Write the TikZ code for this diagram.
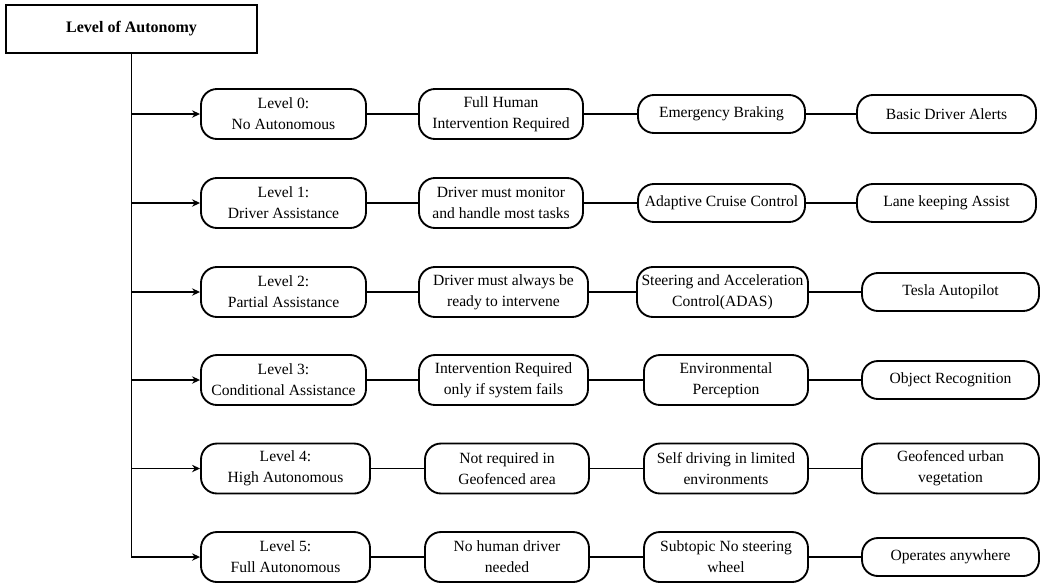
\documentclass[tikz,border=0pt]{standalone}
\usepackage{fontspec}
\setmainfont{Liberation Serif}
\usetikzlibrary{arrows.meta, positioning}

\begin{document}
\begin{tikzpicture}[
      x=0.75pt, y=-0.75pt,
      head/.style={rectangle, draw, line width=1.5pt, minimum width=188pt, minimum height=36pt, font=\fontsize{12}{14}\selectfont\bfseries},
      box/.style={rectangle, draw, line width=1.4pt, rounded corners=12pt, align=center, inner sep=1pt, minimum width=#1*0.75pt, minimum height=37.5pt, font=\fontsize{11.7}{15.75}\selectfont},
      short/.style={minimum height=28.5pt},
      link/.style={line width=1.2pt},
      arrow/.style={-{Stealth[length=6pt, width=5.5pt]}, line width=1.2pt}
    ]
    \useasboundingbox (0,0) rectangle (1041,583);

    \node[head] (aut) at (131.5,29) {Level of Autonomy};

    % level 0
    \node[box=165] (lv0) at (283.5,114) {Level 0:\\No Autonomous};
    \node[box=164] (req0) at (501,114) {Full Human\\Intervention Required};
    \node[box=167, short] (tech0) at (721.5,114) {Emergency Braking};
    \node[box=179, short] (ex0) at (946.5,114) {Basic Driver Alerts};

    % level 1
    \node[box=165] (lv1) at (283.5,203) {Level 1:\\Driver Assistance};
    \node[box=164] (req1) at (501,203) {Driver must monitor\\and handle most tasks};
    \node[box=167, short] (tech1) at (721.5,203) {Adaptive Cruise Control};
    \node[box=179, short] (ex1) at (946.5,203) {Lane keeping Assist};

    % level 2
    \node[box=165] (lv2) at (283.5,292) {Level 2:\\Partial Assistance};
    \node[box=169] (req2) at (503.5,292) {Driver must always be\\ready to intervene};
    \node[box=171] (tech2) at (722.5,292) {Steering and Acceleration\\Control(ADAS)};
    \node[box=177, short] (ex2) at (950.5,292) {Tesla Autopilot};

    % level 3
    \node[box=165] (lv3) at (283.5,380) {Level 3:\\Conditional Assistance};
    \node[box=169] (req3) at (503.5,380) {Intervention Required\\only if system fails};
    \node[box=164] (tech3) at (726,380) {Environmental\\Perception};
    \node[box=177, short] (ex3) at (950.5,380) {Object Recognition};

    % level 4
    \node[box=169] (lv4) at (285.5,468.5) {Level 4:\\High Autonomous};
    \node[box=164] (req4) at (507,468.5) {Not required in\\Geofenced area};
    \node[box=164] (tech4) at (726,468.5) {Self driving in limited\\environments};
    \node[box=177] (ex4) at (950.5,468.5) {Geofenced urban\\vegetation};

    % level 5
    \node[box=169] (lv5) at (285.5,557) {Level 5:\\Full Autonomous};
    \node[box=164] (req5) at (507,557) {No human driver\\needed};
    \node[box=164] (tech5) at (726,557) {Subtopic No steering\\wheel};
    \node[box=177, short] (ex5) at (950.5,557) {Operates anywhere};

    % trunk and branches
    \draw[arrow] (aut.south) |- (lv5);
    \draw[arrow] (aut.south |- lv0) -- (lv0);
    \draw[arrow] (aut.south |- lv1) -- (lv1);
    \draw[arrow] (aut.south |- lv2) -- (lv2);
    \draw[arrow] (aut.south |- lv3) -- (lv3);
    \draw[arrow] (aut.south |- lv4) -- (lv4);

    \draw[link] (lv0) -- (req0) (req0) -- (tech0) (tech0) -- (ex0);
    \draw[link] (lv1) -- (req1) (req1) -- (tech1) (tech1) -- (ex1);
    \draw[link] (lv2) -- (req2) (req2) -- (tech2) (tech2) -- (ex2);
    \draw[link] (lv3) -- (req3) (req3) -- (tech3) (tech3) -- (ex3);
    \draw[link] (lv4) -- (req4) (req4) -- (tech4) (tech4) -- (ex4);
    \draw[link] (lv5) -- (req5) (req5) -- (tech5) (tech5) -- (ex5);
  \end{tikzpicture}
\end{document}
